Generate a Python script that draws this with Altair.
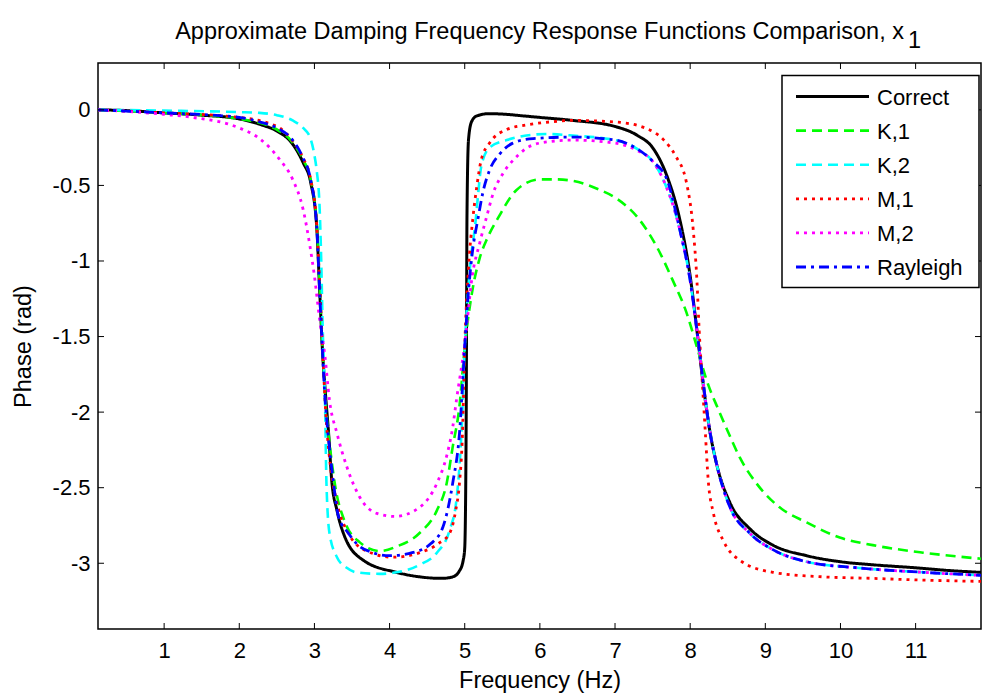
import altair as alt
import pandas as pd

# ---------------- data ----------------
series_names = ["Correct", "K,1", "K,2", "M,1", "M,2", "Rayleigh"]

correct_x = [0.12, 0.5, 1.0, 1.5, 2.0, 2.3, 2.5, 2.7, 2.85, 2.95, 3.03, 3.07, 3.11, 3.15, 3.19, 3.23, 3.3, 3.4,
             3.65, 4.09, 4.4, 4.7, 4.84, 4.93, 4.98, 5.0, 5.02, 5.03, 5.05, 5.09, 5.16, 5.33, 5.56, 5.78, 6.0,
             6.44, 7.0, 7.3, 7.5, 7.7, 7.85, 8.0, 8.09, 8.17, 8.26, 8.35, 8.53, 8.79, 9.1, 9.55, 10.0, 10.43,
             11.0, 11.5, 11.87]
correct_y = [0.0, -0.005, -0.02, -0.035, -0.06, -0.1, -0.14, -0.22, -0.35, -0.48, -0.77, -1.2, -1.62, -1.9,
             -2.15, -2.45, -2.65, -2.82, -2.98, -3.06, -3.09, -3.1, -3.09, -3.05, -2.98, -2.9, -2.0, -0.7,
             -0.2, -0.08, -0.04, -0.025, -0.03, -0.04, -0.05, -0.07, -0.11, -0.17, -0.25, -0.45, -0.7, -1.1,
             -1.46, -1.8, -2.12, -2.34, -2.6, -2.77, -2.88, -2.95, -2.99, -3.01, -3.03, -3.05, -3.06]

k1_x = [0.12, 1.0, 2.0, 2.5, 2.7, 2.85, 2.95, 3.03, 3.07, 3.11, 3.15, 3.2, 3.28, 3.4, 3.6, 3.87, 4.09, 4.4,
        4.63, 4.76, 4.84, 4.93, 5.0, 5.1, 5.2, 5.3, 5.45, 5.69, 6.0, 6.2, 6.44, 6.8, 7.0, 7.33, 7.56, 7.77,
        7.95, 8.09, 8.22, 8.39, 8.53, 8.66, 8.88, 9.19, 9.55, 9.99, 10.43, 11.1, 11.87]
k1_y = [0.0, -0.02, -0.06, -0.13, -0.21, -0.33, -0.46, -0.75, -1.15, -1.6, -1.95, -2.2, -2.5, -2.72, -2.86,
        -2.92, -2.89, -2.8, -2.65, -2.47, -2.23, -1.96, -1.57, -1.2, -0.98, -0.85, -0.71, -0.53, -0.46,
        -0.46, -0.47, -0.53, -0.58, -0.73, -0.91, -1.13, -1.34, -1.57, -1.79, -2.0, -2.16, -2.3, -2.47,
        -2.63, -2.73, -2.83, -2.88, -2.93, -2.97]

k2_x = [0.12, 1.0, 2.0, 2.27, 2.5, 2.71, 2.85, 2.94, 3.0, 3.03, 3.07, 3.09, 3.11, 3.13, 3.14, 3.16, 3.2, 3.3,
        3.43, 3.56, 3.87, 4.09, 4.4, 4.63, 4.8, 4.89, 4.93, 4.96, 5.0, 5.06, 5.15, 5.18, 5.22, 5.33, 5.56,
        5.82, 6.09, 6.44, 7.0, 7.3, 7.5, 7.64, 7.86, 8.0, 8.09, 8.17, 8.26, 8.35, 8.53, 8.79, 9.1, 9.55,
        10.22, 11.1, 11.87]
k2_y = [0.0, -0.005, -0.015, -0.02, -0.035, -0.07, -0.12, -0.18, -0.3, -0.4, -0.66, -0.99, -1.44, -1.75,
        -1.92, -2.47, -2.8, -2.96, -3.03, -3.06, -3.07, -3.06, -3.01, -2.93, -2.78, -2.58, -2.36, -2.1,
        -1.57, -1.1, -0.71, -0.55, -0.375, -0.25, -0.2, -0.17, -0.16, -0.17, -0.2, -0.26, -0.34, -0.46,
        -0.79, -1.13, -1.46, -1.79, -2.12, -2.34, -2.63, -2.8, -2.91, -2.99, -3.03, -3.06, -3.08]

m1_x = [0.12, 1.0, 2.0, 2.5, 2.7, 2.85, 2.95, 3.03, 3.07, 3.11, 3.15, 3.2, 3.3, 3.45, 3.7, 4.05, 4.4, 4.65,
        4.8, 4.88, 4.93, 4.97, 5.0, 5.05, 5.11, 5.16, 5.22, 5.33, 5.56, 5.82, 6.13, 6.44, 7.0, 7.4, 7.65,
        7.8, 7.95, 8.04, 8.09, 8.12, 8.16, 8.2, 8.24, 8.31, 8.44, 8.66, 9.1, 9.77, 10.43, 11.0, 11.87]
m1_y = [0.0, -0.02, -0.05, -0.11, -0.2, -0.32, -0.46, -0.76, -1.15, -1.6, -2.0, -2.3, -2.6, -2.8, -2.92,
        -2.96, -2.93, -2.87, -2.8, -2.65, -2.47, -2.14, -1.57, -1.05, -0.71, -0.51, -0.33, -0.22, -0.13,
        -0.1, -0.08, -0.07, -0.08, -0.12, -0.2, -0.3, -0.48, -0.79, -1.13, -1.46, -1.79, -2.12, -2.45,
        -2.67, -2.85, -2.98, -3.06, -3.09, -3.1, -3.11, -3.12]

m2_x = [0.12, 0.5, 1.0, 1.38, 2.0, 2.27, 2.54, 2.71, 2.85, 2.94, 3.0, 3.07, 3.14, 3.2, 3.3, 3.43, 3.6, 3.83,
        4.07, 4.4, 4.63, 4.76, 4.84, 4.89, 5.0, 5.1, 5.2, 5.29, 5.38, 5.51, 5.69, 5.87, 6.13, 6.44, 7.0,
        7.3, 7.5, 7.64, 7.86, 8.0, 8.09, 8.17, 8.26, 8.35, 8.53, 8.79, 9.1, 9.55, 10.22, 11.1, 11.87]
m2_y = [0.0, -0.01, -0.03, -0.05, -0.12, -0.19, -0.33, -0.46, -0.66, -0.9, -1.1, -1.39, -1.63, -1.92,
        -2.14, -2.36, -2.56, -2.67, -2.69, -2.63, -2.47, -2.29, -2.1, -1.92, -1.55, -1.1, -0.88, -0.71,
        -0.55, -0.42, -0.31, -0.24, -0.21, -0.2, -0.22, -0.27, -0.34, -0.46, -0.79, -1.13, -1.46, -1.79,
        -2.12, -2.34, -2.63, -2.8, -2.91, -2.99, -3.03, -3.06, -3.08]

ray_x = [0.12, 1.0, 2.0, 2.27, 2.5, 2.71, 2.85, 2.94, 3.03, 3.07, 3.11, 3.14, 3.18, 3.25, 3.32, 3.45, 3.56,
         3.78, 4.0, 4.3, 4.55, 4.71, 4.84, 4.93, 5.0, 5.05, 5.1, 5.18, 5.24, 5.33, 5.47, 5.64, 5.91, 6.44,
         7.0, 7.3, 7.5, 7.69, 7.86, 8.0, 8.09, 8.17, 8.26, 8.35, 8.53, 8.79, 9.1, 9.55, 10.22, 11.1, 11.87]
ray_y = [0.0, -0.02, -0.05, -0.08, -0.12, -0.2, -0.32, -0.44, -0.77, -1.21, -1.63, -1.9, -2.14, -2.45,
         -2.69, -2.8, -2.87, -2.93, -2.95, -2.93, -2.87, -2.76, -2.47, -2.14, -1.57, -1.2, -0.95, -0.71,
         -0.55, -0.4, -0.29, -0.22, -0.19, -0.18, -0.2, -0.26, -0.34, -0.46, -0.79, -1.13, -1.46, -1.79,
         -2.12, -2.34, -2.63, -2.8, -2.91, -2.99, -3.03, -3.06, -3.08]

x_ticks = [1, 2, 3, 4, 5, 6, 7, 8, 9, 10, 11]
y_ticks = [0, -0.5, -1, -1.5, -2, -2.5, -3]

title_text = "Approximate Damping Frequency Response Functions Comparison, x"
title_sub = "1"
x_title = "Frequency (Hz)"
y_title = "Phase (rad)"

# ---------------- styles ----------------
series_colors = ["#000000", "#00ff00", "#00ffff", "#ff0000", "#ff00ff", "#0000ff"]
series_dash = [[1, 0], [10, 6], [10, 6], [3, 5], [3, 5], [10, 5, 3, 5]]
series_width = [3, 2.6, 2.6, 2.8, 2.8, 2.8]
FONT = "Liberation Sans, Arial, Helvetica, sans-serif"
FS = 22
TFS = 23.5

W, H = 883, 566
xscale = alt.Scale(domain=[0.12, 11.87], nice=False, zero=False)
yscale = alt.Scale(domain=[-3.435, 0.31], nice=False, zero=False)

all_x = [correct_x, k1_x, k2_x, m1_x, m2_x, ray_x]
all_y = [correct_y, k1_y, k2_y, m1_y, m2_y, ray_y]

axis_common = dict(domain=False, ticks=False, grid=False, labelFont=FONT, titleFont=FONT,
                   labelFontSize=FS, titleFontSize=TFS, labelColor="black", titleColor="black",
                   titleFontWeight="normal", labelFontWeight="normal",
                   labelExpr="toString(datum.value)")

layers = []
for i, name in enumerate(series_names):
    df = pd.DataFrame({"f": all_x[i], "p": all_y[i], "s": name})
    enc = dict(
        x=alt.X("f:Q", scale=xscale,
                axis=alt.Axis(values=x_ticks, title=x_title, labelPadding=11, titlePadding=7,
                              **axis_common)),
        y=alt.Y("p:Q", scale=yscale,
                axis=alt.Axis(values=y_ticks, title=y_title, labelPadding=8, titlePadding=17,
                              **axis_common)),
        order=alt.Order("f:Q"),
    )
    layers.append(
        alt.Chart(df).mark_line(color=series_colors[i], strokeDash=series_dash[i],
                                strokeWidth=series_width[i], interpolate="monotone",
                                strokeCap="butt").encode(**enc)
    )

# inward tick marks on all four sides
xt = pd.DataFrame({"t": x_ticks})
yt = pd.DataFrame({"t": y_ticks})
TL = 6
layers.append(alt.Chart(xt).mark_rule(color="black", strokeWidth=1).encode(
    x=alt.X("t:Q", scale=xscale), y=alt.value(H), y2=alt.value(H - TL)))
layers.append(alt.Chart(xt).mark_rule(color="black", strokeWidth=1).encode(
    x=alt.X("t:Q", scale=xscale), y=alt.value(0), y2=alt.value(TL)))
layers.append(alt.Chart(yt).mark_rule(color="black", strokeWidth=1).encode(
    y=alt.Y("t:Q", scale=yscale), x=alt.value(0), x2=alt.value(TL)))
layers.append(alt.Chart(yt).mark_rule(color="black", strokeWidth=1).encode(
    y=alt.Y("t:Q", scale=yscale), x=alt.value(W), x2=alt.value(W - TL)))

# legend box
LX0, LX1, LY0, LY1 = 684, 881, 12.5, 224.5
layers.append(alt.Chart(pd.DataFrame({"a": [0]})).mark_rect(
    fill="white", stroke="black", strokeWidth=1.5).encode(
    x=alt.value(LX0), x2=alt.value(LX1), y=alt.value(LY0), y2=alt.value(LY1)))
for i, name in enumerate(series_names):
    yy = 33.5 + 34.1 * i
    dfn = pd.DataFrame({"name": [name]})
    layers.append(alt.Chart(dfn).mark_rule(color=series_colors[i], strokeDash=series_dash[i],
                                           strokeWidth=series_width[i], strokeCap="butt").encode(
        x=alt.value(698), x2=alt.value(771), y=alt.value(yy)))
    layers.append(alt.Chart(dfn).mark_text(align="left", baseline="middle", fontSize=FS,
                                           font=FONT, color="black").encode(
        text="name:N", x=alt.value(779), y=alt.value(yy + 1)))

# title (with lowered subscript)
layers.append(alt.Chart(pd.DataFrame({"t": [title_text]})).mark_text(
    align="right", baseline="alphabetic", fontSize=23.5, font=FONT, color="black").encode(
    text="t:N", x=alt.value(806), y=alt.value(-24)))
layers.append(alt.Chart(pd.DataFrame({"t": [title_sub]})).mark_text(
    align="left", baseline="alphabetic", fontSize=23.5, font=FONT, color="black").encode(
    text="t:N", x=alt.value(810), y=alt.value(-15)))

chart = alt.layer(*layers).properties(
    width=W, height=H,
    autosize=alt.AutoSizeParams(type="none"),
    padding={"left": 98, "top": 63, "right": 1, "bottom": 67},
).configure(background="white").configure_view(
    stroke="black", strokeWidth=1.5
)

chart.save("out.html", embed_options={"renderer": "svg", "actions": False})
